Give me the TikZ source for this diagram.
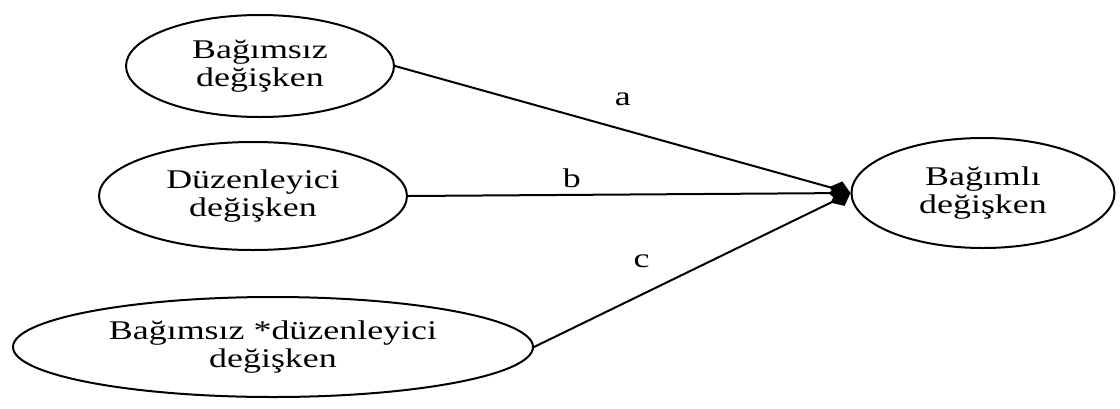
\documentclass[tikz,border=0pt]{standalone}
\usepackage{fontspec}
\setmainfont{Liberation Serif}[FakeStretch=1.33]
\usepackage{tikz}
\usetikzlibrary{shapes.geometric}
\usetikzlibrary{arrows.meta}
\usetikzlibrary{positioning}

\begin{document}
\begin{tikzpicture}[x=0.5pt, y=-0.5pt, node distance=65pt, on grid,
      every node/.style={font=\fontsize{13.5pt}{14pt}\selectfont},
      var/.style={ellipse, draw, line width=1pt, inner sep=0pt, align=center},
      link/.style={line width=1pt, -{Diamond[length=11pt,width=9pt]}}]

      \useasboundingbox (0,0) rectangle (1120,408);

      \node[var, minimum width=134pt, minimum height=51pt] (ind) at (260,66) {Bağımsız\\değişken};
      \node[var, minimum width=154pt, minimum height=54pt] (mod) [below=of ind, xshift=-3.5pt] {Düzenleyici\\değişken};
      \node[var, minimum width=260pt, minimum height=50pt] (inter) [below=of mod, yshift=-10.5pt, xshift=10pt] {Bağımsız *düzenleyici\\değişken};

      \node[var, minimum width=131.5pt, minimum height=55pt] (dep) [right=of mod, xshift=300pt, yshift=1.5pt] {Bağımlı\\değişken};

      \path[link]
        (ind.east) edge [] node[pos=0.5, yshift=15pt] {a} (dep.west)
        (mod.east) edge [] node[pos=0.37, yshift=8.5pt] {b} (dep.west)
        (inter.east) edge [] node[pos=0.34, yshift=16.5pt] {c} (dep.west)
        ;

\end{tikzpicture}
\end{document}
